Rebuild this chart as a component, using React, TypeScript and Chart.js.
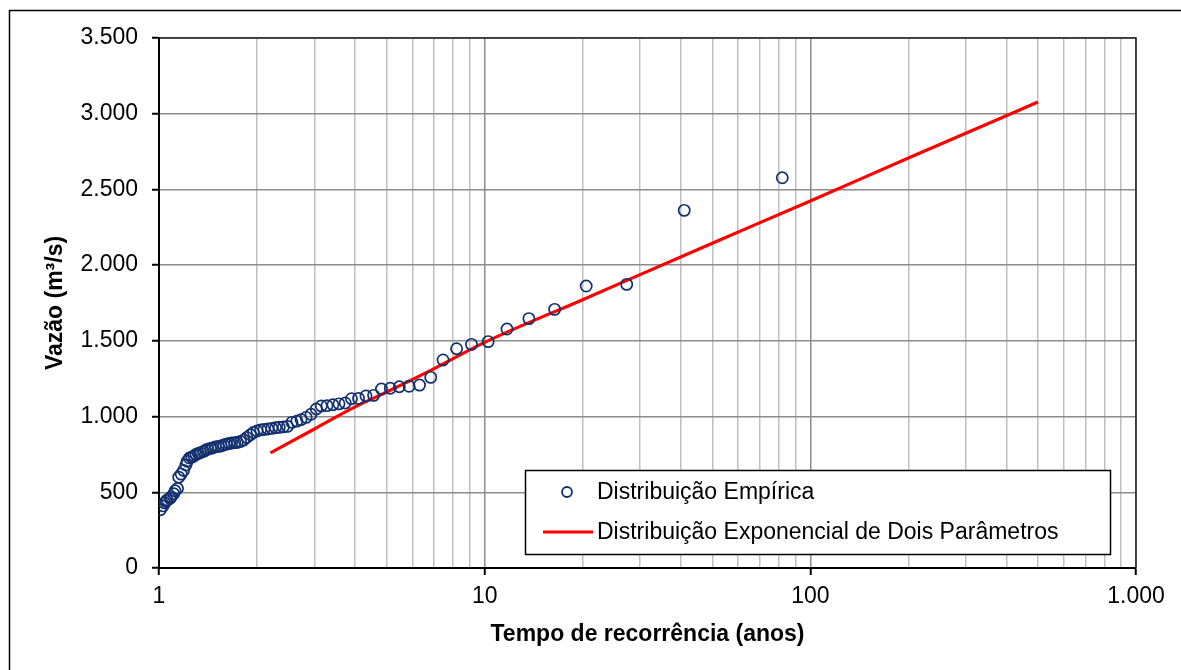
import React, { useEffect, useRef } from "react";
import { Chart, registerables } from "chart.js";

Chart.register(...registerables);

// Empirical distribution: return period (years) and discharge (m³/s)
const T_EMP = [82, 41, 27.3, 20.5, 16.4, 13.67, 11.71, 10.25, 9.11, 8.2, 7.45, 6.83, 6.31, 5.86, 5.47, 5.13, 4.82, 4.56, 4.32, 4.1, 3.9, 3.73, 3.57, 3.42, 3.28, 3.15, 3.04, 2.93, 2.83, 2.73, 2.65, 2.56, 2.48, 2.41, 2.34, 2.28, 2.22, 2.16, 2.1, 2.05, 2.0, 1.95, 1.91, 1.86, 1.82, 1.78, 1.74, 1.71, 1.67, 1.64, 1.61, 1.58, 1.55, 1.52, 1.49, 1.46, 1.44, 1.41, 1.39, 1.37, 1.34, 1.32, 1.3, 1.28, 1.26, 1.24, 1.22, 1.21, 1.19, 1.17, 1.15, 1.14, 1.12, 1.11, 1.09, 1.08, 1.06, 1.05, 1.04, 1.03, 1.01];
const Q_EMP = [2577, 2362, 1873, 1862, 1708, 1647, 1578, 1495, 1477, 1448, 1374, 1259, 1208, 1200, 1197, 1187, 1182, 1140, 1136, 1120, 1118, 1090, 1084, 1078, 1072, 1070, 1050, 1015, 995, 980, 970, 962, 935, 932, 929, 926, 922, 918, 915, 912, 905, 895, 880, 862, 845, 835, 830, 828, 825, 822, 818, 812, 806, 803, 800, 793, 790, 785, 778, 770, 762, 757, 750, 740, 732, 726, 705, 680, 645, 620, 600, 525, 510, 490, 470, 460, 450, 440, 430, 410, 385];

// Two-parameter exponential distribution fit
const T_FIT = [2.2, 3, 4, 5, 7, 10, 20, 50, 100, 200, 500];
const Q_FIT = [760, 918, 1064, 1162, 1317, 1490, 1772, 2145, 2424, 2707, 3077];

const X_TICKS = [1, 2, 3, 4, 5, 6, 7, 8, 9, 10, 20, 30, 40, 50, 60, 70, 80, 90, 100, 200, 300, 400, 500, 600, 700, 800, 900, 1000];
const X_LABELED = [1, 10, 100, 1000];

const LABEL_EMP = "Distribuição Empírica";
const LABEL_FIT = "Distribuição Exponencial de Dois Parâmetros";
const X_TITLE = "Tempo de recorrência (anos)";
const Y_TITLE = "Vazão (m³/s)";

const FONT = "'Liberation Sans', Arial, sans-serif";
const NAVY = "#12306e";
const RED = "#ff0000";

const fmt = (v: number) => String(Math.round(v)).replace(/\B(?=(\d{3})+(?!\d))/g, ".");

const framePlugin = {
  id: "framePlugin",
  beforeDraw(chart: any) {
    const ctx = chart.ctx;
    ctx.save();
    ctx.fillStyle = "#ffffff";
    ctx.fillRect(0, 0, chart.width, chart.height);
    ctx.strokeStyle = "#000";
    ctx.lineWidth = 1.5;
    ctx.strokeRect(9.5, 10.5, 1400, 900);
    ctx.restore();
  },
  afterDatasetsDraw(chart: any) {
    const ctx = chart.ctx;
    const a = chart.chartArea;
    ctx.save();
    // plot area top/right border
    ctx.strokeStyle = "#222";
    ctx.lineWidth = 1.5;
    ctx.beginPath();
    ctx.moveTo(a.left, a.top);
    ctx.lineTo(a.right, a.top);
    ctx.lineTo(a.right, a.bottom);
    ctx.stroke();

    // legend box
    const lx = 525, ly = 470, lw = 585, lh = 84;
    ctx.fillStyle = "#fff";
    ctx.fillRect(lx, ly, lw, lh);
    ctx.strokeStyle = "#000";
    ctx.lineWidth = 1.5;
    ctx.strokeRect(lx + 0.5, ly + 0.5, lw, lh);

    ctx.font = `23px ${FONT}`;
    ctx.fillStyle = "#000";
    ctx.textBaseline = "middle";
    ctx.textAlign = "left";

    ctx.beginPath();
    ctx.arc(567, 492, 5, 0, Math.PI * 2);
    ctx.strokeStyle = NAVY;
    ctx.lineWidth = 1.8;
    ctx.stroke();
    ctx.fillText(chart.data.datasets[0].label, 597, 493);

    ctx.beginPath();
    ctx.moveTo(543, 532);
    ctx.lineTo(593, 532);
    ctx.strokeStyle = RED;
    ctx.lineWidth = 3;
    ctx.stroke();
    ctx.fillText(chart.data.datasets[1].label, 597, 533);
    ctx.restore();
  },
};

export default function App() {
  const ref = useRef<HTMLCanvasElement | null>(null);

  useEffect(() => {
    if (!ref.current) return;
    const chart = new Chart(ref.current, {
      type: "scatter",
      data: {
        datasets: [
          {
            label: LABEL_EMP,
            data: T_EMP.map((t, i) => ({ x: t, y: Q_EMP[i] })),
            showLine: false,
            pointStyle: "circle",
            pointRadius: 5.6,
            pointBorderWidth: 1.7,
            pointBorderColor: NAVY,
            pointBackgroundColor: "rgba(0,0,0,0)",
            borderColor: NAVY,
            backgroundColor: "rgba(0,0,0,0)",
            order: 1,
          },
          {
            label: LABEL_FIT,
            data: T_FIT.map((t, i) => ({ x: t, y: Q_FIT[i] })),
            showLine: true,
            borderColor: RED,
            borderWidth: 3.2,
            pointRadius: 0,
            tension: 0,
            cubicInterpolationMode: "monotone",
            order: 2,
          },
        ],
      },
      options: {
        responsive: false,
        animation: false,
        layout: { padding: { top: 38, right: 45, left: 0, bottom: 0 } },
        plugins: {
          legend: { display: false },
          tooltip: { enabled: false },
        },
        scales: {
          x: {
            type: "logarithmic",
            position: "bottom",
            min: 1,
            max: 1000,
            afterBuildTicks: (scale: any) => {
              scale.ticks = X_TICKS.map((v) => ({ value: v }));
            },
            afterFit: (scale: any) => {
              scale.height = 102;
            },
            ticks: {
              autoSkip: false,
              maxRotation: 0,
              padding: 8,
              color: "#000",
              font: { family: FONT, size: 23 },
              callback: (v: any) => (X_LABELED.includes(Number(v)) ? fmt(Number(v)) : ""),
            },
            grid: {
              color: (ctx: any) => (X_LABELED.includes(ctx.tick?.value) ? "#8c8c8c" : "#c0c0c0"),
              lineWidth: 1.5,
              tickLength: 7,
              tickColor: (ctx: any) => (X_LABELED.includes(ctx.tick?.value) ? "#000" : "rgba(0,0,0,0)"),
              tickWidth: 2,
            },
            border: { display: true, color: "#000", width: 2 },
            title: {
              display: true,
              text: X_TITLE,
              color: "#000",
              font: { family: FONT, size: 23, weight: "bold" },
              padding: { top: 0, bottom: 22 },
            },
          },
          y: {
            type: "linear",
            min: 0,
            max: 3500,
            afterFit: (scale: any) => {
              scale.width = 159;
            },
            ticks: {
              stepSize: 500,
              padding: 14,
              color: "#000",
              font: { family: FONT, size: 23 },
              callback: (v: any) => fmt(Number(v)),
            },
            grid: {
              color: "#8c8c8c",
              lineWidth: 1.5,
              tickLength: 7,
              tickColor: "#000",
              tickWidth: 2,
            },
            border: { display: true, color: "#000", width: 2 },
            title: {
              display: true,
              text: Y_TITLE,
              color: "#000",
              font: { family: FONT, size: 23, weight: "bold" },
              padding: { top: 42, bottom: 0 },
            },
          },
        },
      },
      plugins: [framePlugin],
    } as any);
    return () => chart.destroy();
  }, []);

  return (
    <div style={{ position: "fixed", left: 0, top: 0, width: 1181, height: 670, background: "#fff" }}>
      <canvas ref={ref} width={1181} height={670} style={{ display: "block" }} />
    </div>
  );
}
